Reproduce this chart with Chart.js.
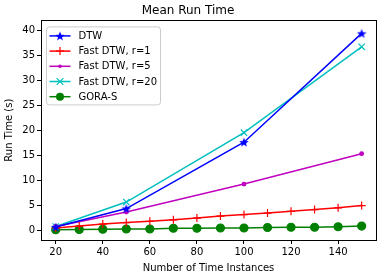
<!DOCTYPE html>
<html>
<head>
<meta charset="utf-8">
<script src="https://cdn.jsdelivr.net/npm/chart.js@4"></script>
<style>
  html, body { margin: 0; padding: 0; background: #fff; }
  #wrap { width: 386px; height: 278px; }
</style>
</head>
<body>
<div id="wrap"><canvas id="chart" width="386" height="278"></canvas></div>
<script>
// values
var xCoarse = [20, 50, 100, 150];
var xFine = [20, 30, 40, 50, 60, 70, 80, 90, 100, 110, 120, 130, 140, 150];
var dtw = [0.6, 4.3, 17.6, 39.4];
var fastR1 = [0.4, 0.8, 1.2, 1.5, 1.75, 2.05, 2.4, 2.8, 3.1, 3.4, 3.75, 4.1, 4.45, 4.9];
var fastR5 = [0.7, 3.6, 9.2, 15.3];
var fastR20 = [0.7, 5.6, 19.5, 36.7];
var goraS = [0.05, 0.1, 0.15, 0.2, 0.2, 0.35, 0.35, 0.4, 0.4, 0.5, 0.55, 0.55, 0.65, 0.8];
var xTicks = [20, 40, 60, 80, 100, 120, 140];
var yTicks = [0, 5, 10, 15, 20, 25, 30, 35, 40];

var FONT = 'DejaVu Sans';

function starImage(size, color) {
  var c = document.createElement('canvas');
  c.width = size; c.height = size;
  var g = c.getContext('2d');
  var cx = size / 2, cy = size / 2, ro = size / 2, ri = ro * 0.42;
  g.beginPath();
  for (var i = 0; i < 10; i++) {
    var r = i % 2 ? ri : ro;
    var a = -Math.PI / 2 + i * Math.PI / 5;
    g.lineTo(cx + r * Math.cos(a), cy + r * Math.sin(a) + 0.5);
  }
  g.closePath();
  g.fillStyle = color;
  g.fill();
  return c;
}
var star = starImage(10, '#0000ff');

function pts(xs, ys) {
  return xs.map(function (x, i) { return { x: x, y: ys[i] }; });
}

function drawMarker(ctx, ds, x, y) {
  var st = ds.pointStyle, r = ds.pointRadius;
  ctx.save();
  ctx.strokeStyle = ds.borderColor;
  ctx.fillStyle = ds.pointBackgroundColor || ds.borderColor;
  ctx.lineWidth = ds.pointBorderWidth || 1.2;
  if (st instanceof HTMLCanvasElement) {
    ctx.drawImage(st, x - st.width / 2, y - st.height / 2);
  } else if (st === 'cross') {
    ctx.beginPath();
    ctx.moveTo(x - r, y); ctx.lineTo(x + r, y);
    ctx.moveTo(x, y - r); ctx.lineTo(x, y + r);
    ctx.stroke();
  } else if (st === 'crossRot') {
    var d = r * 0.75;
    ctx.beginPath();
    ctx.moveTo(x - d, y - d); ctx.lineTo(x + d, y + d);
    ctx.moveTo(x - d, y + d); ctx.lineTo(x + d, y - d);
    ctx.stroke();
  } else {
    ctx.beginPath();
    ctx.arc(x, y, r, 0, Math.PI * 2);
    ctx.fill();
  }
  ctx.restore();
}

var framePlugin = {
  id: 'frame',
  afterDatasetsDraw: function (chart) {
    var a = chart.chartArea, ctx = chart.ctx;
    ctx.save();
    ctx.strokeStyle = '#000';
    ctx.lineWidth = 1;
    ctx.strokeRect(Math.round(a.left) + 0.5, Math.round(a.top) + 0.5,
      Math.round(a.right - a.left), Math.round(a.bottom - a.top));

    // legend box, upper left inside the axes
    var bx = a.left + 5.5, by = a.top + 6.5, bw = 114, bh = 78;
    ctx.beginPath();
    if (ctx.roundRect) ctx.roundRect(bx, by, bw, bh, 3); else ctx.rect(bx, by, bw, bh);
    ctx.fillStyle = 'rgba(255,255,255,0.8)';
    ctx.fill();
    ctx.strokeStyle = '#cccccc';
    ctx.stroke();
    ctx.font = '10px "' + FONT + '"';
    ctx.textBaseline = 'middle';
    chart.data.datasets.forEach(function (ds, i) {
      var y = by + 9 + i * 15.2;
      var x0 = bx + 3, x1 = bx + 24;
      ctx.strokeStyle = ds.borderColor;
      ctx.lineWidth = 1.5;
      ctx.beginPath();
      ctx.moveTo(x0, y); ctx.lineTo(x1, y);
      ctx.stroke();
      drawMarker(ctx, ds, (x0 + x1) / 2, y);
      ctx.fillStyle = '#000';
      ctx.fillText(ds.label, bx + 32, y + 0.5);
    });
    ctx.restore();
  }
};

function line(label, color, xs, ys, style, radius, extra) {
  var d = {
    label: label,
    data: pts(xs, ys),
    borderColor: color,
    backgroundColor: color,
    pointBackgroundColor: color,
    pointBorderColor: color,
    borderWidth: 1.5,
    pointStyle: style,
    pointRadius: radius,
    pointBorderWidth: 1.2,
    tension: 0,
    fill: false
  };
  for (var k in extra) d[k] = extra[k];
  return d;
}

Chart.defaults.font.family = FONT;
Chart.defaults.color = '#000';

new Chart(document.getElementById('chart'), {
  type: 'line',
  data: {
    datasets: [
      line('DTW', '#0000ff', xCoarse, dtw, star, 5),
      line('Fast DTW, r=1', '#ff0000', xFine, fastR1, 'cross', 4),
      line('Fast DTW, r=5', '#bf00bf', xCoarse, fastR5, 'circle', 1.8),
      line('Fast DTW, r=20', '#00bfbf', xCoarse, fastR20, 'crossRot', 4.5),
      line('GORA-S', '#008000', xFine, goraS, 'circle', 4)
    ]
  },
  plugins: [framePlugin],
  options: {
    responsive: false,
    animation: false,
    layout: { padding: { left: 0, right: 10, top: 0, bottom: 0 } },
    plugins: {
      legend: { display: false },
      tooltip: { enabled: false },
      title: {
        display: true,
        text: 'Mean Run Time',
        font: { size: 12, weight: 'normal' },
        color: '#000',
        padding: { top: 4, bottom: 2 }
      }
    },
    scales: {
      x: {
        type: 'linear',
        min: 13.75,
        max: 156.1,
        afterBuildTicks: function (s) { s.ticks = xTicks.map(function (v) { return { value: v }; }); },
        afterFit: function (s) { s.height = 38; },
        grid: { display: true, drawOnChartArea: false, drawTicks: true, tickLength: 4, color: '#000' },
        border: { display: false },
        ticks: { font: { size: 10 }, padding: 2, maxRotation: 0, color: '#000' },
        title: { display: true, text: 'Number of Time Instances', font: { size: 10 }, padding: { top: 1, bottom: 4 }, color: '#000' }
      },
      y: {
        type: 'linear',
        min: -2,
        max: 42,
        afterBuildTicks: function (s) { s.ticks = yTicks.map(function (v) { return { value: v }; }); },
        afterFit: function (s) { s.width = 41; },
        grid: { display: true, drawOnChartArea: false, drawTicks: true, tickLength: 4, color: '#000' },
        border: { display: false },
        ticks: { font: { size: 10 }, padding: 2, color: '#000' },
        title: { display: true, text: 'Run Time (s)', font: { size: 10 }, padding: { top: 3, bottom: 0 }, color: '#000' }
      }
    }
  }
});
</script>
</body>
</html>
